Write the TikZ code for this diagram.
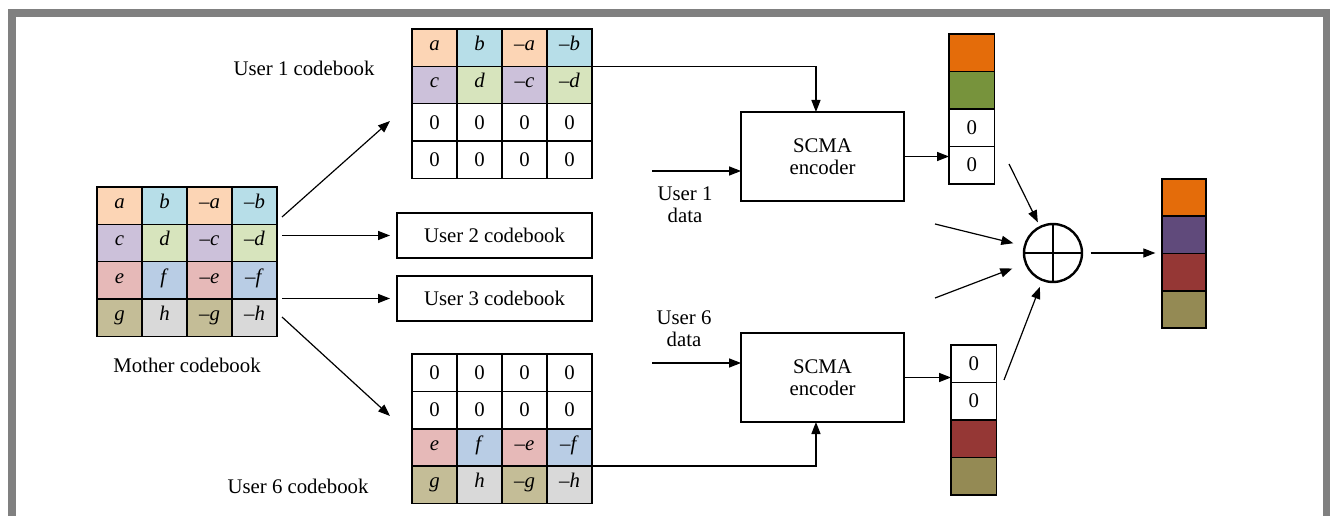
\documentclass[tikz,border=0pt]{standalone}
\usepackage{fontspec}
\setmainfont{Liberation Serif}
\usetikzlibrary{arrows.meta,calc}

% light tints used in the codebook tables
\definecolor{cpeach}{HTML}{FCD5B5}
\definecolor{caqua}{HTML}{B7DEE8}
\definecolor{clav}{HTML}{CCC1DA}
\definecolor{cgreen}{HTML}{D7E4BD}
\definecolor{cpink}{HTML}{E6B9B8}
\definecolor{cblue}{HTML}{B9CDE5}
\definecolor{ctan}{HTML}{C4BD97}
\definecolor{cgray}{HTML}{D9D9D9}
% dark shades used in the codeword vectors
\definecolor{vorange}{HTML}{E46C0A}
\definecolor{volive}{HTML}{77933C}
\definecolor{vpurple}{HTML}{604A7B}
\definecolor{vbrick}{HTML}{953735}
\definecolor{vkhaki}{HTML}{948A54}
\definecolor{framegray}{HTML}{808080}

\newcommand\lblfont{\fontsize{15.6pt}{16.5pt}\selectfont}

% one row of a codebook table: prefix, row, left x, top y, cell style, list of fill/text
\newcommand\cbrow[6]{%
  \foreach \cbfill/\cbtxt [count=\k] in {#6} {
    \node[cell, #5, fill=\cbfill] (#1-#2-\k) at ({#3+(\k-1)*45},{#4+(#2-1)*37.35}) {\cbtxt};
  }%
}

\begin{document}
\begin{tikzpicture}[x=0.75pt,y=-0.75pt,
  every node/.style={font=\lblfont},
  cell/.style={draw, line width=1.2pt, minimum width=33.75pt, minimum height=28pt,
    inner sep=0pt, outer sep=0pt, anchor=north west},
  letters/.style={text height=0.64em, text depth=0.22em},
  zeros/.style={},
  vcell/.style={draw, line width=1.2pt, minimum width=34.2pt, minimum height=28pt,
    inner sep=0pt, outer sep=0pt, anchor=north west},
  blk/.style={draw, line width=1.1pt, inner sep=0pt, outer sep=0pt, align=center},
  arr/.style={line width=0.9pt, -{Triangle[length=9pt,width=6.8pt]}},
  lab/.style={align=center}
]
\useasboundingbox (0,0) rectangle (1330,516);
\fill[white] (0,0) rectangle (1330,516);

% outer frame
\draw[framegray, line width=6pt, line join=miter] (12,516) -- (12,13) -- (1326.5,13) -- (1326.5,516);

% mother codebook
\cbrow{m}{1}{97}{187}{letters}{cpeach/\textit{a}, caqua/\textit{b}, cpeach/\textit{–a}, caqua/\textit{–b}}
\cbrow{m}{2}{97}{187}{letters}{clav/\textit{c}, cgreen/\textit{d}, clav/\textit{–c}, cgreen/\textit{–d}}
\cbrow{m}{3}{97}{187}{letters}{cpink/\textit{e}, cblue/\textit{f}, cpink/\textit{–e}, cblue/\textit{–f}}
\cbrow{m}{4}{97}{187}{letters}{ctan/\textit{g}, cgray/\textit{h}, ctan/\textit{–g}, cgray/\textit{–h}}
\node (mlab) at (187,365) {Mother codebook};

% user 1 codebook
\cbrow{ua}{1}{412}{29}{letters}{cpeach/\textit{a}, caqua/\textit{b}, cpeach/\textit{–a}, caqua/\textit{–b}}
\cbrow{ua}{2}{412}{29}{letters}{clav/\textit{c}, cgreen/\textit{d}, clav/\textit{–c}, cgreen/\textit{–d}}
\cbrow{ua}{3}{412}{29}{zeros}{white/0, white/0, white/0, white/0}
\cbrow{ua}{4}{412}{29}{zeros}{white/0, white/0, white/0, white/0}
\node (ualab) at (304,68) {User 1 codebook};

% user 6 codebook
\cbrow{uf}{1}{412}{354}{zeros}{white/0, white/0, white/0, white/0}
\cbrow{uf}{2}{412}{354}{zeros}{white/0, white/0, white/0, white/0}
\cbrow{uf}{3}{412}{354}{letters}{cpink/\textit{e}, cblue/\textit{f}, cpink/\textit{–e}, cblue/\textit{–f}}
\cbrow{uf}{4}{412}{354}{letters}{ctan/\textit{g}, cgray/\textit{h}, ctan/\textit{–g}, cgray/\textit{–h}}
\node (uflab) at (298,486) {User 6 codebook};

% user 2 and user 3 codebooks
\node[blk, minimum width=146.25pt, minimum height=33.75pt] (ub) at (494.5,235.5) {User 2 codebook};
\node[blk, minimum width=146.25pt, minimum height=33.75pt] (uc) at (494.5,298.5) {User 3 codebook};

% arrows out of the mother codebook
\coordinate (s1) at (282,217); \coordinate (t1) at (390,121);
\coordinate (s6) at (282,317); \coordinate (t6) at (390,416);
\draw[arr] (s1) -- (t1);
\draw[arr] ([xshift=3.75pt]m-2-4.east |- ub.west) -- ([xshift=-5.25pt]ub.west);
\draw[arr] ([xshift=3.75pt]m-3-4.east |- uc.west) -- ([xshift=-5.25pt]uc.west);
\draw[arr] (s6) -- (t6);

% SCMA encoders
\node[blk, minimum width=122.25pt, minimum height=66.75pt] (enca) at (822.5,156.5) {SCMA\\encoder};
\node[blk, minimum width=122.25pt, minimum height=66.75pt] (encb) at (822.5,377.5) {SCMA\\encoder};

% codebook feeds into the encoders
\draw[arr] (ua-1-4.south east) -| ([xshift=-4.9pt]enca.north);
\draw[arr] (uf-3-4.south east) -| ([xshift=-4.9pt]encb.south);

% user data inputs
\coordinate (da) at (652,171);
\coordinate (db) at (652,363);
\draw[arr] (da) -- (enca.west |- da);
\draw[arr] (db) -- (encb.west |- db);
\node[lab] (dalab) at (685,205) {User 1\\data};
\node[lab] (dblab) at (684,328.5) {User 6\\data};

% codeword of user 1
\node[vcell, fill=vorange] (va-1) at (949,34) {};
\node[vcell, fill=volive]  (va-2) at (949,71.5) {};
\node[vcell, fill=white]   (va-3) at (949,109) {0};
\node[vcell, fill=white]   (va-4) at (949,146.5) {0};
% codeword of user 6
\node[vcell, fill=white]   (vb-1) at (951,345) {0};
\node[vcell, fill=white]   (vb-2) at (951,382.5) {0};
\node[vcell, fill=vbrick]  (vb-3) at (951,420) {};
\node[vcell, fill=vkhaki]  (vb-4) at (951,457.5) {};

\draw[arr] (enca.east) -- (enca.east -| va-4.west);
\draw[arr] (encb.east) -- (encb.east -| vb-1.west);

% superposition
\node[circle, draw, line width=1.8pt, minimum size=43.5pt, inner sep=0pt] (sum) at (1053,253) {};
\draw[line width=1.6pt] (sum.north) -- (sum.south) (sum.west) -- (sum.east);

\coordinate (ia) at (1009,164);
\coordinate (ib) at (935,224);
\coordinate (ic) at (935,298);
\coordinate (id) at (1004,380);
\draw[arr, shorten >=3pt] (ia) -- (sum);
\draw[arr, shorten >=8pt] (ib) -- (sum);
\draw[arr, shorten >=10pt] (ic) -- (sum);
\draw[arr, shorten >=4.5pt] (id) -- (sum);

% superimposed codeword
\node[vcell, minimum width=33pt, fill=vorange] (o-1) at (1162,179) {};
\node[vcell, minimum width=33pt, fill=vpurple] (o-2) at (1162,216.25) {};
\node[vcell, minimum width=33pt, fill=vbrick]  (o-3) at (1162,253.5) {};
\node[vcell, minimum width=33pt, fill=vkhaki]  (o-4) at (1162,290.75) {};

\draw[arr, shorten <=5.5pt, shorten >=5pt] (sum.east) -- (sum.east -| o-1.west);
\end{tikzpicture}
\end{document}
